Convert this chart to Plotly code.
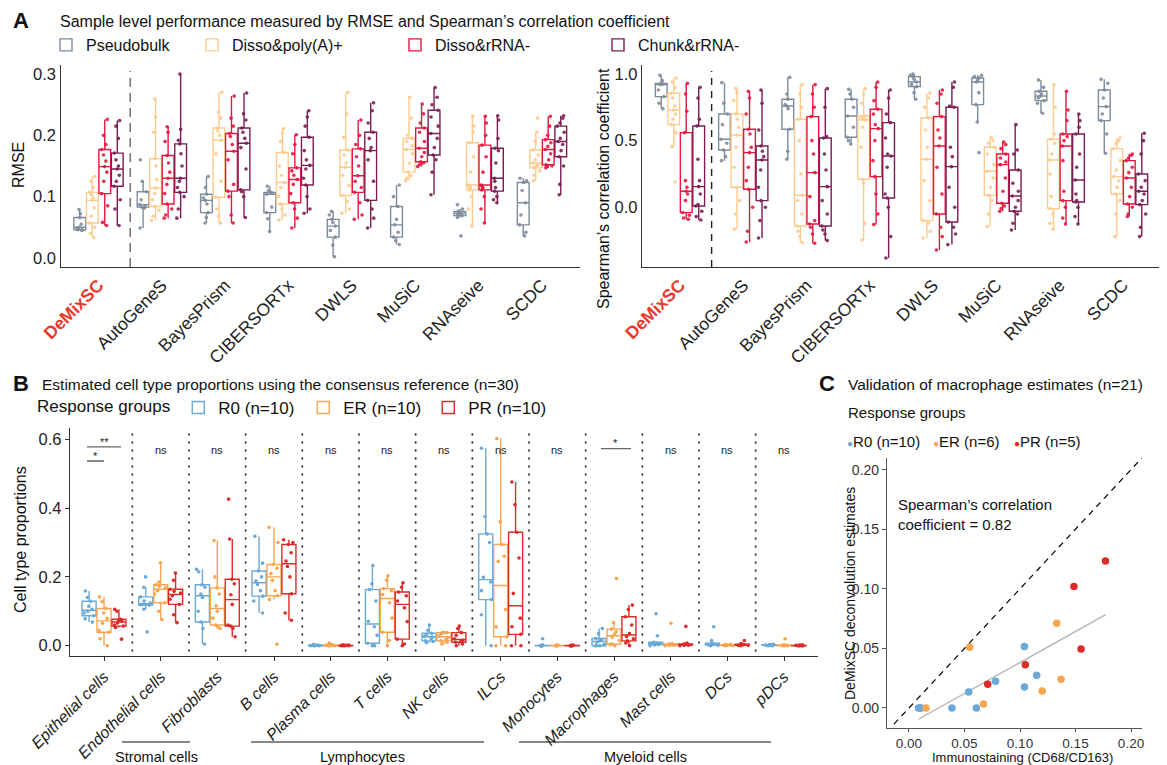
import numpy as np
import plotly.graph_objects as go

FONT = "Liberation Sans"
OFF = 8  # the page body has an 8px margin; lay out in page pixels
W, H = 1167 - OFF, 765 - OFF

# ---------------- Panel A data ----------------
methods = ["DeMixSC", "AutoGeneS", "BayesPrism", "CIBERSORTx", "DWLS", "MuSiC", "RNAseive", "SCDC"]
protocols = ["Pseudobulk", "Disso&poly(A)+", "Disso&rRNA-", "Chunk&rRNA-"]
protocol_colors = ["#7E8B9C", "#FDCB8C", "#E3173F", "#7B1D52"]

rmse_pseudobulk = [
    [0.045, 0.046, 0.046, 0.048, 0.050, 0.055, 0.066, 0.072, 0.079],
    [0.049, 0.081, 0.083, 0.085, 0.087, 0.095, 0.108, 0.125, 0.160],
    [0.057, 0.066, 0.074, 0.088, 0.094, 0.098, 0.104, 0.115, 0.133],
    [0.043, 0.064, 0.074, 0.083, 0.104, 0.106, 0.107, 0.110, 0.117],
    [0.002, 0.021, 0.034, 0.045, 0.052, 0.058, 0.063, 0.070, 0.076],
    [0.022, 0.028, 0.034, 0.042, 0.054, 0.063, 0.084, 0.100, 0.119],
    [0.036, 0.066, 0.069, 0.071, 0.073, 0.074, 0.076, 0.080, 0.087],
    [0.036, 0.042, 0.054, 0.070, 0.090, 0.110, 0.123, 0.126, 0.130],
]
rmse_polya = [
    [0.033, 0.040, 0.050, 0.057, 0.068, 0.082, 0.094, 0.098, 0.103, 0.107, 0.115, 0.125, 0.133],
    [0.061, 0.068, 0.078, 0.084, 0.095, 0.105, 0.114, 0.128, 0.150, 0.162, 0.205, 0.230, 0.259],
    [0.057, 0.068, 0.080, 0.099, 0.125, 0.170, 0.192, 0.200, 0.207, 0.212, 0.228, 0.238, 0.270],
    [0.062, 0.070, 0.080, 0.088, 0.100, 0.115, 0.123, 0.135, 0.150, 0.172, 0.190, 0.204, 0.211],
    [0.073, 0.080, 0.092, 0.102, 0.118, 0.135, 0.148, 0.155, 0.168, 0.176, 0.197, 0.235, 0.270],
    [0.126, 0.130, 0.134, 0.140, 0.155, 0.170, 0.177, 0.183, 0.190, 0.195, 0.200, 0.228, 0.262],
    [0.052, 0.080, 0.100, 0.111, 0.114, 0.117, 0.119, 0.140, 0.165, 0.188, 0.205, 0.215, 0.231],
    [0.126, 0.135, 0.142, 0.147, 0.150, 0.152, 0.155, 0.160, 0.168, 0.176, 0.190, 0.205, 0.228],
]
rmse_rrna = [
    [0.053, 0.058, 0.085, 0.105, 0.125, 0.140, 0.149, 0.158, 0.168, 0.177, 0.185, 0.200, 0.226],
    [0.065, 0.070, 0.080, 0.088, 0.105, 0.120, 0.130, 0.140, 0.155, 0.167, 0.190, 0.205, 0.214],
    [0.057, 0.070, 0.100, 0.109, 0.120, 0.160, 0.174, 0.185, 0.198, 0.203, 0.215, 0.228, 0.264],
    [0.049, 0.065, 0.080, 0.090, 0.105, 0.120, 0.128, 0.135, 0.142, 0.147, 0.170, 0.185, 0.201],
    [0.063, 0.070, 0.090, 0.107, 0.115, 0.125, 0.134, 0.150, 0.165, 0.178, 0.185, 0.200, 0.225],
    [0.149, 0.152, 0.155, 0.157, 0.165, 0.172, 0.179, 0.190, 0.205, 0.212, 0.220, 0.235, 0.251],
    [0.057, 0.080, 0.100, 0.111, 0.114, 0.116, 0.119, 0.140, 0.165, 0.184, 0.200, 0.220, 0.231],
    [0.147, 0.149, 0.150, 0.152, 0.160, 0.170, 0.177, 0.182, 0.188, 0.193, 0.200, 0.215, 0.231],
]
rmse_chunk = [
    [0.053, 0.080, 0.095, 0.117, 0.125, 0.135, 0.145, 0.150, 0.160, 0.171, 0.195, 0.215, 0.224],
    [0.065, 0.080, 0.100, 0.107, 0.115, 0.125, 0.130, 0.150, 0.170, 0.186, 0.192, 0.210, 0.300],
    [0.066, 0.100, 0.108, 0.111, 0.145, 0.180, 0.187, 0.195, 0.205, 0.212, 0.225, 0.235, 0.269],
    [0.073, 0.080, 0.100, 0.119, 0.130, 0.145, 0.151, 0.160, 0.175, 0.197, 0.215, 0.230, 0.240],
    [0.049, 0.065, 0.080, 0.094, 0.125, 0.160, 0.175, 0.180, 0.195, 0.205, 0.220, 0.240, 0.253],
    [0.103, 0.140, 0.160, 0.168, 0.180, 0.195, 0.203, 0.215, 0.230, 0.241, 0.250, 0.262, 0.278],
    [0.090, 0.095, 0.100, 0.109, 0.115, 0.125, 0.130, 0.155, 0.175, 0.179, 0.195, 0.225, 0.232],
    [0.103, 0.120, 0.150, 0.165, 0.175, 0.185, 0.190, 0.195, 0.205, 0.215, 0.220, 0.228, 0.232],
]

scc_pseudobulk = [
    [0.74, 0.78, 0.83, 0.88, 0.92, 0.925, 0.93, 0.95, 0.99],
    [0.35, 0.38, 0.43, 0.48, 0.51, 0.62, 0.70, 0.78, 0.935],
    [0.36, 0.42, 0.585, 0.74, 0.76, 0.77, 0.81, 0.85, 0.975],
    [0.475, 0.50, 0.525, 0.60, 0.685, 0.75, 0.81, 0.85, 0.885],
    [0.81, 0.86, 0.905, 0.92, 0.94, 0.96, 0.98, 0.99, 1.0],
    [0.41, 0.64, 0.77, 0.86, 0.94, 0.955, 0.97, 0.98, 0.99],
    [0.705, 0.78, 0.80, 0.82, 0.835, 0.85, 0.87, 0.90, 0.955],
    [0.405, 0.55, 0.65, 0.70, 0.755, 0.82, 0.88, 0.93, 0.96],
]
scc_polya = [
    [0.19, 0.455, 0.56, 0.62, 0.66, 0.70, 0.73, 0.76, 0.82, 0.855, 0.90, 0.94, 0.97],
    [-0.165, -0.05, 0.05, 0.15, 0.30, 0.45, 0.54, 0.60, 0.66, 0.70, 0.80, 0.86, 0.89],
    [-0.265, -0.22, -0.18, -0.14, -0.05, 0.05, 0.09, 0.25, 0.50, 0.66, 0.75, 0.85, 0.92],
    [-0.245, -0.12, 0.18, 0.21, 0.45, 0.60, 0.655, 0.665, 0.675, 0.685, 0.78, 0.85, 0.89],
    [-0.23, -0.18, -0.12, -0.10, 0.05, 0.20, 0.36, 0.45, 0.58, 0.67, 0.75, 0.82, 0.855],
    [-0.145, -0.05, 0.05, 0.09, 0.15, 0.22, 0.27, 0.32, 0.40, 0.45, 0.48, 0.50, 0.525],
    [-0.165, -0.12, -0.05, -0.01, 0.08, 0.25, 0.355, 0.40, 0.48, 0.51, 0.55, 0.75, 0.92],
    [-0.22, -0.05, 0.05, 0.10, 0.15, 0.20, 0.23, 0.28, 0.35, 0.44, 0.48, 0.50, 0.52],
]
scc_rrna = [
    [-0.09, -0.08, -0.06, -0.04, 0.05, 0.10, 0.12, 0.15, 0.20, 0.56, 0.72, 0.85, 0.93],
    [-0.26, -0.18, 0.0, 0.135, 0.20, 0.30, 0.41, 0.45, 0.55, 0.585, 0.70, 0.82, 0.87],
    [-0.27, -0.20, -0.15, -0.125, -0.10, 0.08, 0.26, 0.40, 0.50, 0.68, 0.75, 0.85, 0.92],
    [-0.13, -0.05, 0.10, 0.23, 0.35, 0.50, 0.59, 0.62, 0.70, 0.735, 0.80, 0.90, 0.94],
    [-0.32, -0.22, -0.15, -0.05, 0.10, 0.30, 0.46, 0.52, 0.58, 0.68, 0.78, 0.85, 0.88],
    [-0.03, -0.01, 0.01, 0.03, 0.12, 0.22, 0.32, 0.34, 0.37, 0.40, 0.44, 0.47, 0.49],
    [-0.125, -0.08, 0.0, 0.05, 0.12, 0.35, 0.46, 0.50, 0.53, 0.55, 0.65, 0.73, 0.87],
    [-0.07, -0.05, 0.0, 0.025, 0.08, 0.15, 0.22, 0.26, 0.30, 0.35, 0.37, 0.39, 0.40],
]
scc_chunk = [
    [-0.095, -0.07, -0.03, 0.01, 0.02, 0.10, 0.155, 0.20, 0.36, 0.61, 0.66, 0.82, 0.90],
    [-0.23, -0.10, 0.0, 0.05, 0.15, 0.28, 0.355, 0.38, 0.42, 0.46, 0.58, 0.78, 0.88],
    [-0.25, -0.20, -0.17, -0.14, -0.05, 0.05, 0.155, 0.28, 0.40, 0.52, 0.53, 0.75, 0.89],
    [-0.38, -0.22, 0.0, 0.07, 0.10, 0.30, 0.385, 0.40, 0.52, 0.635, 0.70, 0.82, 0.88],
    [-0.28, -0.20, -0.15, -0.11, 0.0, 0.15, 0.305, 0.38, 0.45, 0.75, 0.76, 0.90, 0.94],
    [-0.17, -0.12, -0.05, -0.03, 0.0, 0.05, 0.085, 0.12, 0.18, 0.28, 0.40, 0.43, 0.62],
    [-0.125, -0.07, 0.0, 0.04, 0.05, 0.10, 0.205, 0.30, 0.40, 0.55, 0.60, 0.65, 0.70],
    [-0.22, -0.15, -0.05, 0.02, 0.05, 0.10, 0.12, 0.15, 0.20, 0.25, 0.40, 0.50, 0.555],
]

# ---------------- Panel B data ----------------
cell_types = ["Epithelial cells", "Endothelial cells", "Fibroblasts", "B cells", "Plasma cells",
              "T cells", "NK cells", "ILCs", "Monocytes", "Macrophages", "Mast cells", "DCs", "pDCs"]
groups = ["R0 (n=10)", "ER (n=10)", "PR (n=10)"]
group_colors = ["#6BA9D6", "#F9A550", "#DC2B28"]

prop_R0 = [
    [0.069, 0.078, 0.087, 0.095, 0.100, 0.106, 0.115, 0.129, 0.140, 0.159],
    [0.040, 0.106, 0.118, 0.119, 0.120, 0.124, 0.130, 0.142, 0.170, 0.200],
    [0.005, 0.050, 0.069, 0.100, 0.140, 0.150, 0.170, 0.177, 0.215, 0.222],
    [0.095, 0.130, 0.144, 0.160, 0.178, 0.188, 0.200, 0.217, 0.240, 0.318],
    [0.0, 0.0, 0.0, 0.0, 0.001, 0.001, 0.001, 0.002, 0.002, 0.003],
    [0.0, 0.0, 0.007, 0.030, 0.055, 0.071, 0.130, 0.163, 0.180, 0.233],
    [0.009, 0.012, 0.014, 0.020, 0.025, 0.027, 0.030, 0.036, 0.045, 0.060],
    [0.0, 0.090, 0.134, 0.160, 0.185, 0.199, 0.300, 0.325, 0.375, 0.574],
    [0.0, 0.0, 0.0, 0.0, 0.0, 0.0, 0.001, 0.001, 0.002, 0.020],
    [0.0, 0.0, 0.0, 0.003, 0.010, 0.014, 0.018, 0.021, 0.035, 0.050],
    [0.0, 0.002, 0.003, 0.004, 0.005, 0.006, 0.008, 0.010, 0.029, 0.093],
    [0.0, 0.001, 0.002, 0.003, 0.003, 0.004, 0.005, 0.007, 0.015, 0.055],
    [0.0, 0.0, 0.001, 0.001, 0.002, 0.002, 0.002, 0.003, 0.003, 0.004],
]
prop_ER = [
    [0.0, 0.020, 0.039, 0.045, 0.065, 0.079, 0.095, 0.108, 0.128, 0.142],
    [0.076, 0.100, 0.125, 0.150, 0.160, 0.168, 0.172, 0.177, 0.185, 0.241],
    [0.050, 0.055, 0.060, 0.080, 0.100, 0.116, 0.150, 0.168, 0.200, 0.306],
    [0.004, 0.134, 0.145, 0.160, 0.190, 0.210, 0.225, 0.236, 0.300, 0.344],
    [0.0, 0.0, 0.0, 0.001, 0.001, 0.001, 0.002, 0.002, 0.003, 0.008],
    [0.0, 0.015, 0.039, 0.080, 0.125, 0.149, 0.160, 0.166, 0.190, 0.203],
    [0.005, 0.010, 0.014, 0.018, 0.024, 0.028, 0.034, 0.038, 0.038, 0.038],
    [0.0, 0.0, 0.026, 0.055, 0.105, 0.245, 0.260, 0.294, 0.360, 0.602],
    [0.0, 0.0, 0.0, 0.0, 0.0, 0.0, 0.001, 0.001, 0.001, 0.002],
    [0.0, 0.003, 0.005, 0.015, 0.025, 0.033, 0.040, 0.048, 0.067, 0.195],
    [0.0, 0.001, 0.002, 0.002, 0.003, 0.003, 0.004, 0.005, 0.006, 0.065],
    [0.0, 0.0, 0.001, 0.001, 0.001, 0.002, 0.002, 0.002, 0.003, 0.004],
    [0.0, 0.0, 0.0, 0.001, 0.001, 0.001, 0.001, 0.002, 0.002, 0.020],
]
prop_PR = [
    [0.019, 0.053, 0.057, 0.060, 0.066, 0.072, 0.074, 0.077, 0.100, 0.106],
    [0.067, 0.090, 0.120, 0.135, 0.145, 0.153, 0.158, 0.164, 0.190, 0.211],
    [0.026, 0.050, 0.057, 0.060, 0.120, 0.148, 0.180, 0.193, 0.310, 0.426],
    [0.074, 0.095, 0.151, 0.200, 0.230, 0.246, 0.270, 0.294, 0.300, 0.308],
    [0.0, 0.0, 0.0, 0.0, 0.001, 0.001, 0.001, 0.001, 0.002, 0.002],
    [0.0, 0.005, 0.019, 0.070, 0.110, 0.130, 0.145, 0.156, 0.170, 0.183],
    [0.0, 0.005, 0.010, 0.012, 0.016, 0.020, 0.030, 0.038, 0.050, 0.057],
    [0.0, 0.0, 0.033, 0.055, 0.080, 0.152, 0.255, 0.330, 0.410, 0.476],
    [0.0, 0.0, 0.0, 0.0, 0.0, 0.0, 0.001, 0.001, 0.001, 0.001],
    [0.0, 0.008, 0.014, 0.020, 0.027, 0.035, 0.060, 0.084, 0.105, 0.118],
    [0.0, 0.001, 0.002, 0.002, 0.003, 0.003, 0.004, 0.005, 0.008, 0.056],
    [0.0, 0.001, 0.001, 0.002, 0.002, 0.003, 0.003, 0.004, 0.006, 0.015],
    [0.0, 0.0, 0.0, 0.0, 0.001, 0.001, 0.001, 0.001, 0.001, 0.002],
]
sig_labels = ["", "ns", "ns", "ns", "ns", "ns", "ns", "ns", "ns", "", "ns", "ns", "ns"]
cell_groups = ["Stromal cells", "Lymphocytes", "Myeloid cells"]

# ---------------- Panel C data ----------------
c_groups = ["R0 (n=10)", "ER (n=6)", "PR (n=5)"]
ihc_R0 = [0.0087, 0.011, 0.010, 0.0387, 0.0607, 0.0538, 0.078, 0.104, 0.104, 0.115]
est_R0 = [0.0, 0.0, 0.0, 0.0, 0.0, 0.0135, 0.0224, 0.0516, 0.0177, 0.0275]
ihc_ER = [0.0153, 0.067, 0.0547, 0.120, 0.133, 0.137]
est_ER = [0.0, 0.0034, 0.051, 0.0143, 0.071, 0.0241]
ihc_PR = [0.0709, 0.1048, 0.1486, 0.155, 0.177]
est_PR = [0.0199, 0.0362, 0.102, 0.0494, 0.1234]
spearman_c = 0.82


def px(x):
    return (x - OFF) / W


def py(y):
    return 1 - (y - OFF) / H


def long_form(cats, values):
    xs, ys = [], []
    for c, vals in zip(cats, values):
        xs += [c] * len(vals)
        ys += list(vals)
    return xs, ys


fig = go.Figure()

# Panel A boxes
rmse_sets = [rmse_pseudobulk, rmse_polya, rmse_rrna, rmse_chunk]
scc_sets = [scc_pseudobulk, scc_polya, scc_rrna, scc_chunk]
a_legends = ["legend", "legend4", "legend5", "legend6"]
for i, (name, col) in enumerate(zip(protocols, protocol_colors)):
    for sets, xa, ya, show in [(rmse_sets, "x", "y", True), (scc_sets, "x2", "y2", False)]:
        xs, ys = long_form(methods, sets[i])
        fig.add_trace(go.Box(
            x=xs, y=ys, name=name, xaxis=xa, yaxis=ya, legend=a_legends[i],
            showlegend=show, boxpoints="all", jitter=0.7, pointpos=0,
            fillcolor="rgba(0,0,0,0)", line=dict(color=col, width=1.4), whiskerwidth=0,
            marker=dict(color=col, size=3.6, opacity=0.9, line=dict(width=0)),
            quartilemethod="inclusive", offsetgroup=str(i),
        ))

# Panel B boxes
for name, col, vals in zip(groups, group_colors, [prop_R0, prop_ER, prop_PR]):
    xs, ys = long_form(cell_types, vals)
    fig.add_trace(go.Box(
        x=xs, y=ys, name=name, xaxis="x3", yaxis="y3", legend="legend2",
        boxpoints="all", jitter=0.9, pointpos=0, offsetgroup=name,
        fillcolor="rgba(0,0,0,0)", line=dict(color=col, width=1.4), whiskerwidth=0,
        marker=dict(color=col, size=3.6, line=dict(width=0)),
        quartilemethod="inclusive",
    ))

# Panel C scatter
all_x = np.array(ihc_R0 + ihc_ER + ihc_PR)
all_y = np.array(est_R0 + est_ER + est_PR)
slope, intercept = np.polyfit(all_x, all_y, 1)
fx = np.array([all_x.min(), all_x.max()])
fig.add_trace(go.Scatter(x=fx, y=slope * fx + intercept, mode="lines", xaxis="x4", yaxis="y4",
                         line=dict(color="#BDBDBD", width=1.6), showlegend=False, hoverinfo="skip"))
fig.add_trace(go.Scatter(x=[-0.0135, 0.21], y=[-0.0135, 0.21], mode="lines", xaxis="x4", yaxis="y4",
                         line=dict(color="black", width=1.2, dash="6px,5px"), showlegend=False))
for name, col, xv, yv in zip(c_groups, group_colors, [ihc_R0, ihc_ER, ihc_PR], [est_R0, est_ER, est_PR]):
    fig.add_trace(go.Scatter(x=xv, y=yv, mode="markers", name=name, xaxis="x4", yaxis="y4",
                             marker=dict(color=col, size=7.5), showlegend=False))

tickfont = dict(family=FONT, size=17.5, color="#222")
axis_line = dict(showline=True, linecolor="#333", linewidth=1.4, showgrid=False, zeroline=False,
                 automargin=False)

method_ticktext = ["<b><span style='color:#E8392F'>DeMixSC</span></b>"] + methods[1:]

layout = dict(
    template="none",
    width=W, height=H, margin=dict(l=0, r=0, t=0, b=0, pad=0, autoexpand=False),
    paper_bgcolor="white", plot_bgcolor="white",
    font=dict(family=FONT, color="#111"),
    boxmode="group", boxgap=0.21, boxgroupgap=0.06,
    xaxis=dict(domain=[px(60.5), px(580)], anchor="y", range=[-0.6, 7.6], type="category",
               tickvals=methods, ticktext=method_ticktext, tickangle=-45, tickfont=tickfont,
               ticks="", ticklen=0, **axis_line),
    yaxis=dict(domain=[py(267), py(65)], anchor="x", range=[-0.0147, 0.3147],
               tickvals=[0, 0.1, 0.2, 0.3], ticktext=["0.0", "0.1", "0.2", "0.3"],
               tickfont=dict(family=FONT, size=16.5, color="#222"), ticks="", **axis_line),
    xaxis2=dict(domain=[px(642), px(1161)], anchor="y2", range=[-0.6, 7.6], type="category",
                tickvals=methods, ticktext=method_ticktext, tickangle=-45, tickfont=tickfont,
                ticks="", ticklen=0, **axis_line),
    yaxis2=dict(domain=[py(267), py(65)], anchor="x2", range=[-0.448, 1.0675],
                tickvals=[0, 0.5, 1.0], ticktext=["0.0", "0.5", "1.0"],
                tickfont=dict(family=FONT, size=16.5, color="#222"), ticks="", **axis_line),
    xaxis3=dict(domain=[px(70), px(818)], anchor="y3", range=[-0.6, 12.6], type="category",
                tickvals=cell_types, ticktext=["<i>%s</i>" % c for c in cell_types], tickangle=-45,
                tickfont=dict(family=FONT, size=16, color="#222"), ticks="outside", ticklen=4,
                tickcolor="#333", **axis_line),
    yaxis3=dict(domain=[py(656), py(428.3)], anchor="x3", range=[-0.030, 0.632],
                tickvals=[0, 0.2, 0.4, 0.6], ticktext=["0.0", "0.2", "0.4", "0.6"],
                tickfont=dict(family=FONT, size=16.5, color="#222"), ticks="outside", ticklen=4,
                tickcolor="#333", **axis_line),
    xaxis4=dict(domain=[px(887), px(1142)], anchor="y4", range=[-0.0198, 0.2099],
                tickvals=[0, 0.05, 0.1, 0.15, 0.2], ticktext=["0.00", "0.05", "0.10", "0.15", "0.20"],
                tickfont=dict(family=FONT, size=13.5, color="#333"), ticks="outside", ticklen=3,
                tickcolor="#555", showline=True, linecolor="#555", linewidth=1.2,
                showgrid=False, zeroline=False, automargin=False),
    yaxis4=dict(domain=[py(728), py(457.7)], anchor="x4", range=[-0.0168, 0.21],
                tickvals=[0, 0.05, 0.1, 0.15, 0.2], ticktext=["0.00", "0.05", "0.10", "0.15", "0.20"],
                tickfont=dict(family=FONT, size=14, color="#333"), ticks="outside", ticklen=4,
                tickcolor="#555", showline=True, linecolor="#555", linewidth=1.2,
                showgrid=False, zeroline=False, automargin=False),
)

leg_common = dict(orientation="h", bgcolor="rgba(0,0,0,0)", yanchor="middle", xanchor="left",
                  font=dict(family=FONT, size=16, color="#111"))
for key, xl in zip(a_legends, [46, 192, 395, 598]):
    layout[key] = dict(x=px(xl), y=py(45), **leg_common)
layout["legend2"] = dict(x=px(35), y=py(408), orientation="h", bgcolor="rgba(0,0,0,0)",
                         yanchor="middle", xanchor="left", entrywidth=80, entrywidthmode="pixels",
                         font=dict(family=FONT, size=17, color="#111"),
                         title=dict(text="Response groups", side="left",
                                    font=dict(family=FONT, size=17, color="#111")))

shapes = []
# dashed separators in A
for xr, yr, col, dash in [("x", "y domain", "#666", "9px,6px"), ("x2", "y2 domain", "#222", "7px,6px")]:
    shapes.append(dict(type="line", xref=xr, yref=yr, x0=0.5, x1=0.5, y0=0.0, y1=0.97,
                       line=dict(color=col, width=1.4, dash=dash)))
# dotted separators in B
for i in range(len(cell_types) - 1):
    shapes.append(dict(type="line", xref="x3", yref="y3 domain", x0=i + 0.5, x1=i + 0.5, y0=0.02, y1=0.98,
                       line=dict(color="#111", width=1.6, dash="2px,6px")))
# significance bars
for x0, x1, yv in [(-0.3, 0.3, 0.578), (-0.3, 0.0, 0.537)]:
    shapes.append(dict(type="line", xref="x3", yref="y3", x0=x0, x1=x1, y0=yv, y1=yv,
                       line=dict(color="#666", width=1.4)))
shapes.append(dict(type="line", xref="x3", yref="y3", x0=9 - 0.23, x1=9 + 0.3, y0=0.573, y1=0.573,
                   line=dict(color="#666", width=1.4)))
# group lines under B
for x0, x1 in [(122, 190), (251, 484), (519, 771)]:
    shapes.append(dict(type="line", xref="paper", yref="paper", x0=px(x0), x1=px(x1), y0=py(742), y1=py(742),
                       line=dict(color="#111", width=1.2)))
layout["shapes"] = shapes

ann = []


def text(x, y, s, size=16, xanchor="left", yanchor="middle", angle=0, color="#111", bold=False, **kw):
    ann.append(dict(x=px(x), y=py(y), xref="paper", yref="paper", text=("<b>%s</b>" % s) if bold else s,
                    showarrow=False, xanchor=xanchor, yanchor=yanchor, textangle=angle,
                    font=dict(family=FONT, size=size, color=color), **kw))


text(11, 20, "A", size=22, bold=True)
text(58, 21, "Sample level performance measured by RMSE and Spearman’s correlation coefficient", size=16)
text(11, 383, "B", size=22, bold=True)
text(40, 384, "Estimated cell type proportions using the consensus reference (n=30)", size=15.5)
text(817, 383, "C", size=22, bold=True)
text(846, 384, "Validation of macrophage estimates (n=21)", size=15.5)
text(846, 413, "Response groups", size=15)
for xl, name, col in zip([845, 931, 1012], c_groups, group_colors):
    text(xl, 442, "<span style='color:%s;font-size:10px'>●</span>%s" % (col, name), size=15)

text(18, 165, "RMSE", size=16, xanchor="center", angle=-90)
text(603, 188, "Spearman’s correlation coefficient", size=16, xanchor="center", angle=-90)
text(20, 540, "Cell type proportions", size=16, xanchor="center", angle=-90)
text(850, 594, "DeMixSC deconvolution estimates", size=14, xanchor="center", angle=-90)
text(1022, 757.5, "Immunostaining (CD68/CD163)", size=13, xanchor="center")

for x, s in zip([156, 362, 645], cell_groups):
    text(x, 757, s, size=14.5, xanchor="center")

# ns / significance labels in B
for c, s in zip(cell_types, sig_labels):
    if s:
        ann.append(dict(x=c, y=0.568, xref="x3", yref="y3", text=s, showarrow=False,
                        font=dict(family=FONT, size=11, color="#222")))
for x, yv, s in [(0.0, 0.592, "**"), (-0.15, 0.552, "*"), (9.03, 0.588, "*")]:
    ann.append(dict(x=x, y=yv, xref="x3", yref="y3", text=s, showarrow=False,
                    font=dict(family=FONT, size=11, color="#222")))

# Spearman annotation in C
ann.append(dict(x=-0.0115, y=0.1625, xref="x4", yref="y4", xanchor="left", yanchor="middle", align="left",
                text="Spearman’s correlation<br>coefficient = %.2f" % spearman_c, showarrow=False,
                font=dict(family=FONT, size=15, color="#111")))
layout["annotations"] = ann

fig.update_layout(**layout)
fig.write_html("out.html")
